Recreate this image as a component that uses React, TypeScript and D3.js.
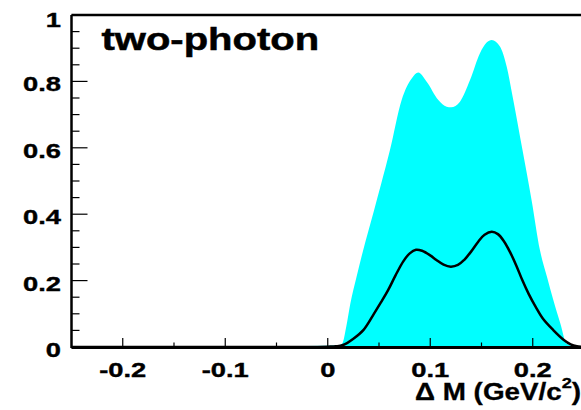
import React from "react";
import * as d3 from "d3";

const W = 581;
const H = 410;

// cyan band (upper envelope), x in GeV/c^2
const bandX = [-0.25, -0.05, -0.04, 0.0, 0.01, 0.014, 0.018, 0.022, 0.028, 0.034, 0.045, 0.052, 0.0607, 0.0721, 0.0819, 0.0883, 0.0965, 0.1079, 0.116, 0.1203, 0.129, 0.1388, 0.1485, 0.155, 0.16, 0.168, 0.1746, 0.181, 0.19, 0.199, 0.207, 0.214, 0.22, 0.227, 0.233, 0.24, 0.25];
const bandY = [0, 0, 0.002, 0.004, 0.006, 0.01, 0.06, 0.13, 0.21, 0.285, 0.41, 0.49, 0.593, 0.744, 0.809, 0.827, 0.799, 0.744, 0.724, 0.722, 0.739, 0.804, 0.885, 0.917, 0.925, 0.905, 0.844, 0.744, 0.593, 0.44, 0.292, 0.21, 0.142, 0.07, 0.01, 0.004, 0.003];

// black curve
const lineX = [-0.25, -0.05, 0.0, 0.008, 0.015, 0.025, 0.0347, 0.045, 0.052, 0.059, 0.066, 0.0737, 0.08, 0.0861, 0.092, 0.1, 0.106, 0.113, 0.12, 0.127, 0.133, 0.14, 0.147, 0.153, 0.16, 0.166, 0.172, 0.178, 0.184, 0.19, 0.196, 0.203, 0.21, 0.22, 0.23, 0.237, 0.243, 0.25];
const lineY = [0, 0, 0.001, 0.002, 0.006, 0.025, 0.051, 0.1, 0.135, 0.172, 0.215, 0.258, 0.282, 0.293, 0.29, 0.276, 0.262, 0.248, 0.242, 0.247, 0.262, 0.288, 0.318, 0.338, 0.347, 0.34, 0.318, 0.285, 0.245, 0.2, 0.16, 0.12, 0.085, 0.051, 0.022, 0.008, 0.002, 0];

const xMajor = [-0.2, -0.1, 0, 0.1, 0.2];
const xLabels = ["-0.2", "-0.1", "0", "0.1", "0.2"];
const yMajor = [0, 0.2, 0.4, 0.6, 0.8, 1];
const yLabels = ["0", "0.2", "0.4", "0.6", "0.8", "1"];

const title = "two-photon";
const axisTitle = "\u0394 M (GeV/c";

const FONT = "'Liberation Sans', Arial, Helvetica, sans-serif";

export default function App() {
  const x = d3.scaleLinear().domain([-0.25, 0.25]).range([71.5, 584]);
  const y = d3.scaleLinear().domain([0, 1]).range([347, 15]);

  const band = bandX.map((v, i) => [v, bandY[i]] as [number, number]);
  const line = lineX.map((v, i) => [v, lineY[i]] as [number, number]);

  const area = d3
    .area<[number, number]>()
    .x((d) => x(d[0]))
    .y0(y(0))
    .y1((d) => y(d[1]))
    .curve(d3.curveMonotoneX);
  const path = d3
    .line<[number, number]>()
    .x((d) => x(d[0]))
    .y((d) => Math.min(y(0), y(d[1])))
    .curve(d3.curveCatmullRom.alpha(0.5));

  const yMinor = d3.range(0, 1.0001, 0.05).filter((v) => !yMajor.some((m) => Math.abs(m - v) < 1e-6));
  const xMinor = d3.range(-0.15, 0.25, 0.1);

  const sx = 1.3;

  return (
    <svg width={W} height={H} style={{ position: "absolute", left: 0, top: 0, background: "#fff" }}>
      <rect x={0} y={0} width={W} height={H} fill="#fff" />
      <path d={area(band) ?? ""} fill="#00ffff" stroke="none" />
      <path d={path(line) ?? ""} fill="none" stroke="#000" strokeWidth={2.5} />

      {/* frame */}
      <line x1={x(-0.25)} x2={W + 5} y1={y(1)} y2={y(1)} stroke="#000" strokeWidth={2.5} />
      <line x1={x(-0.25)} x2={x(-0.25)} y1={y(1)} y2={y(0) + 1} stroke="#000" strokeWidth={2.5} />
      <line x1={x(-0.25)} x2={W + 5} y1={y(0) + 0.5} y2={y(0) + 0.5} stroke="#000" strokeWidth={3} />

      {/* y ticks */}
      {yMajor.map((v) => (
        <line key={"ym" + v} x1={x(-0.25)} x2={x(-0.25) + 16} y1={y(v)} y2={y(v)} stroke="#000" strokeWidth={1.2} />
      ))}
      {yMinor.map((v) => (
        <line key={"yn" + v} x1={x(-0.25)} x2={x(-0.25) + 8} y1={y(v)} y2={y(v)} stroke="#000" strokeWidth={1.2} />
      ))}
      {/* x ticks */}
      {xMajor.map((v) => (
        <line key={"xm" + v} x1={x(v)} x2={x(v)} y1={y(0)} y2={y(0) - 9} stroke="#000" strokeWidth={1.2} />
      ))}
      {xMinor.map((v) => (
        <line key={"xn" + v} x1={x(v)} x2={x(v)} y1={y(0)} y2={y(0) - 4.5} stroke="#000" strokeWidth={1.2} />
      ))}

      {/* y labels */}
      {yMajor.map((v, i) => (
        <g key={"yl" + v} transform={`translate(61,${y(v) + (v === 1 ? 11.5 : 10)}) scale(${sx},1)`}>
          <text textAnchor="end" fontFamily={FONT} fontWeight="bold" fontSize={21} fill="#000" stroke="#000" strokeWidth={0.4}>
            {yLabels[i]}
          </text>
        </g>
      ))}
      {/* x labels */}
      {xMajor.map((v, i) => (
        <g key={"xl" + v} transform={`translate(${x(v)},377) scale(${sx},1)`}>
          <text textAnchor="middle" fontFamily={FONT} fontWeight="bold" fontSize={21} fill="#000" stroke="#000" strokeWidth={0.4}>
            {xLabels[i]}
          </text>
        </g>
      ))}

      {/* title */}
      <g transform={`translate(101.5,50) scale(1.25,1)`}>
        <text fontFamily={FONT} fontWeight="bold" fontSize={32} fill="#000" stroke="#000" strokeWidth={0.5}>
          {title}
        </text>
      </g>

      {/* axis title */}
      <g transform={`translate(415,400) scale(1.21,1)`}>
        <text fontFamily={FONT} fontWeight="bold" fontSize={23} fill="#000" stroke="#000" strokeWidth={0.3}>
          {axisTitle}
          <tspan fontSize={15} dy={-12}>2</tspan>
          <tspan fontSize={23} dy={12}>)</tspan>
        </text>
      </g>
    </svg>
  );
}
